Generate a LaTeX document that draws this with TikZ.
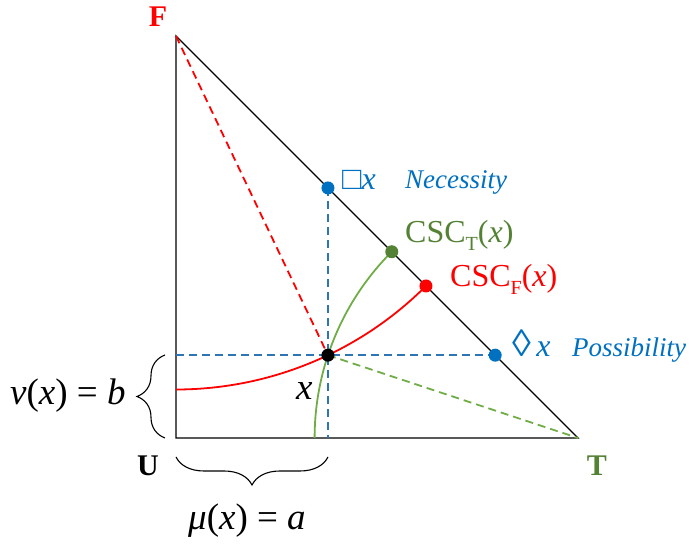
\documentclass[tikz,border=0pt]{standalone}
\usepackage{fontspec}
\setmainfont{Liberation Serif}
\usetikzlibrary{decorations.pathreplacing,calc}
\definecolor{cred}{HTML}{FF0000}
\definecolor{cblue}{HTML}{0070C0}
\definecolor{cdash}{HTML}{2E75B6}
\definecolor{cgreen}{HTML}{548235}
\definecolor{cgline}{HTML}{70AD47}
\newcommand{\fsz}[1]{\fontsize{#1}{#1}\selectfont}
\begin{document}
\begin{tikzpicture}[x=1pt,y=1pt,
  tri/.style={draw=black,line width=1.3pt},
  dsh/.style={line width=1.8pt,dash pattern=on 8pt off 5pt},
  arcg/.style={draw=cgline,line width=1.8pt},
  arcr/.style={draw=cred,line width=1.8pt},
  dotn/.style={circle,inner sep=0pt,minimum size=13pt},
  brc/.style={draw=black,line width=1.1pt,decorate,decoration={brace,amplitude=28pt}},
  lbl/.style={inner sep=0pt,anchor=base west}]
\useasboundingbox (-176,-107) rectangle (513,438);
\def\L{402}
\pgfmathsetmacro\a{0.378}
\pgfmathsetmacro\b{0.206}
\pgfmathsetmacro\rg{\L*sqrt((1-\a)^2+\b^2)}
\pgfmathsetmacro\rf{\L*sqrt(\a^2+(1-\b)^2)}
\coordinate (U) at (0,0);
\coordinate (T) at (\L,0);
\coordinate (F) at (0,\L);
\coordinate (X) at (\a*\L,\b*\L);
\coordinate (Nec) at (\a*\L,\L-\a*\L);
\coordinate (Pos) at (\L-\b*\L,\b*\L);
\coordinate (Xb) at (\a*\L,0);
\coordinate (Xl) at (0,\b*\L);
\coordinate (CT) at ({\L-\rg/sqrt(2)},{\rg/sqrt(2)});
\coordinate (CF) at ({\rf/sqrt(2)},{\L-\rf/sqrt(2)});
\coordinate (GA) at ({\L-\rg},0);
\coordinate (RA) at (0,{\L-\rf});
% triangle
\draw[tri] (F) -- (U) -- (T) -- cycle;
% dashed lines
\draw[dsh,draw=cdash] (Nec) -- (Xb);
\draw[dsh,draw=cdash] (Xl) -- (Pos);
\draw[dsh,draw=cred] (F) -- (X);
\draw[dsh,draw=cgline] (X) -- (T);
% arcs
\draw[arcg] (GA) arc[start angle=180,end angle=135,radius=\rg];
\draw[arcr] (RA) arc[start angle=270,end angle=315,radius=\rf];
% dots
\node[dotn,fill=cblue] (nd) at (Nec) {};
\node[dotn,fill=cblue] (pd) at (Pos) {};
\node[dotn,fill=cgreen] (ctd) at (CT) {};
\node[dotn,fill=cred] (cfd) at (CF) {};
\node[dotn,fill=black] (xd) at (X) {};
% braces
\draw[brc] (-11,0) -- (-11,83);
\draw[brc] (152,-19) -- (0,-19);
% labels
\node[text=cred,font=\fsz{30}\bfseries] (lF) at (-18,421) {F};
\node[font=\fsz{30}\bfseries] (lU) at (-28,-28) {U};
\node[text=cgreen,font=\fsz{30}\bfseries] (lT) at (421,-28) {T};
\node[lbl,text=cblue,font=\fsz{32}] (lbox) at (166,248) {□\textit{x}};
\node[lbl,text=cblue,font=\fsz{27}\itshape] (lnec) at (229,249) {Necessity};
\node[lbl,text=cgreen,font=\fsz{32}] (lct) at (229,195) {CSC\raisebox{-0.22em}{\fsz{20}T}(\textit{x})};
\node[lbl,text=cred,font=\fsz{32}] (lcf) at (274,151) {CSC\raisebox{-0.22em}{\fsz{20}F}(\textit{x})};
\node[lbl,text=cblue,font=\fsz{32}] (ldia) at (336,81) {{\fsz{38}\bfseries ◊}\,\textit{x}};
\node[lbl,text=cblue,font=\fsz{27}\itshape] (lpos) at (396,81) {Possibility};
\node[lbl,font=\fsz{37}\itshape] (lx) at (120,38) {x};
\node[lbl,font=\fsz{37}] (lnu) at (-166,33) {\textit{ν}(\textit{x}) = \textit{b}};
\node[lbl,font=\fsz{37}] (lmu) at (12,-92) {\textit{μ}(\textit{x}) = \textit{a}};
\end{tikzpicture}
\end{document}
